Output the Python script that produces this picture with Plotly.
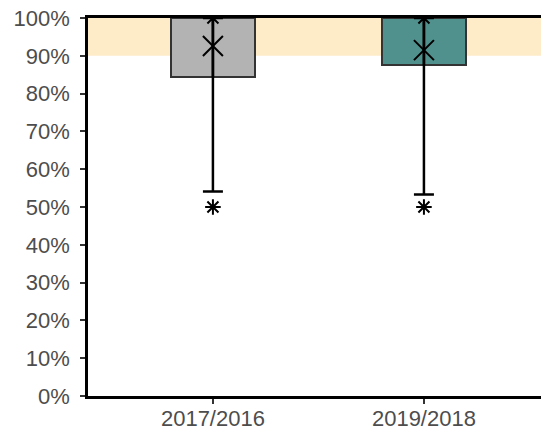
import plotly.graph_objects as go

categories = ["2017/2016", "2019/2018"]
q1 = [0.843, 0.875]
q3 = [1.0, 1.0]
whisker_low = [0.541, 0.533]
maximum = [1.0, 1.0]
minimum = [0.50, 0.50]
means = [0.926, 0.915]
box_colors = ["#B3B3B3", "#50918D"]
band_low, band_high = 0.90, 1.00
ytick_vals = [i / 10 for i in range(11)]

fig = go.Figure()

# target band
fig.add_shape(type="rect", xref="paper", x0=0, x1=1, yref="y", y0=band_low, y1=band_high,
              fillcolor="#FEEBC8", line_width=0, layer="below")

# whiskers (from max down to lower whisker with cap)
fig.add_trace(go.Scatter(
    x=categories, y=maximum, mode="markers", marker=dict(size=0.1, color="rgba(0,0,0,0)"),
    error_y=dict(type="data", symmetric=False, array=[0, 0],
                 arrayminus=[m - w for m, w in zip(maximum, whisker_low)],
                 color="black", thickness=2.5, width=10),
    showlegend=False, hoverinfo="skip"))

# boxes
fig.add_trace(go.Bar(
    x=categories, y=[b - a for a, b in zip(q1, q3)], base=q1, width=0.4,
    marker=dict(color=box_colors, line=dict(color="#333333", width=2)),
    showlegend=False))

# whisker line through the box (drawn again on top)
fig.add_trace(go.Scatter(
    x=categories, y=maximum, mode="markers", marker=dict(size=0.1, color="rgba(0,0,0,0)"),
    error_y=dict(type="data", symmetric=False, array=[0, 0],
                 arrayminus=[m - a for m, a in zip(maximum, q1)],
                 color="black", thickness=2.5, width=0),
    showlegend=False, hoverinfo="skip"))

# means
fig.add_trace(go.Scatter(
    x=categories, y=means, mode="markers",
    marker=dict(symbol="x-thin", size=20, line=dict(width=2, color="black"), color="black"),
    showlegend=False))

# max / min asterisks
fig.add_trace(go.Scatter(
    x=categories + categories, y=maximum + minimum, mode="markers",
    marker=dict(symbol="asterisk", size=13, line=dict(width=2, color="black"), color="black"),
    showlegend=False))

# right edge line
fig.add_shape(type="line", xref="paper", x0=1, x1=1, yref="paper", y0=0, y1=1,
              line=dict(color="#666666", width=1))

# page body has an 8px margin: size the figure to fit the 549x432 window
fig.update_layout(
    width=541, height=424,
    margin=dict(l=80, r=1, t=10, b=36, autoexpand=False),
    plot_bgcolor="white", paper_bgcolor="white",
    font=dict(family="Liberation Sans, Arial, sans-serif", size=22, color="#4D4D4D"),
    bargap=0,
)
fig.update_xaxes(
    type="category", range=[-0.592, 1.588],
    showline=True, linecolor="black", linewidth=2.5, mirror=True,
    ticks="outside", ticklen=5, tickcolor="#333333", tickwidth=1.5,
    ticklabelstandoff=-4, ticklabeloverflow="allow",
    showgrid=False, zeroline=False, automargin=False,
)
fig.update_yaxes(
    range=[0, 1], tickvals=ytick_vals, tickformat=".0%",
    showline=True, linecolor="black", linewidth=2.5,
    ticks="outside", ticklen=5, tickcolor="#333333", tickwidth=1.5,
    ticklabelstandoff=6, ticklabeloverflow="allow",
    showgrid=False, zeroline=False, automargin=False,
)

fig.write_html("out.html")
